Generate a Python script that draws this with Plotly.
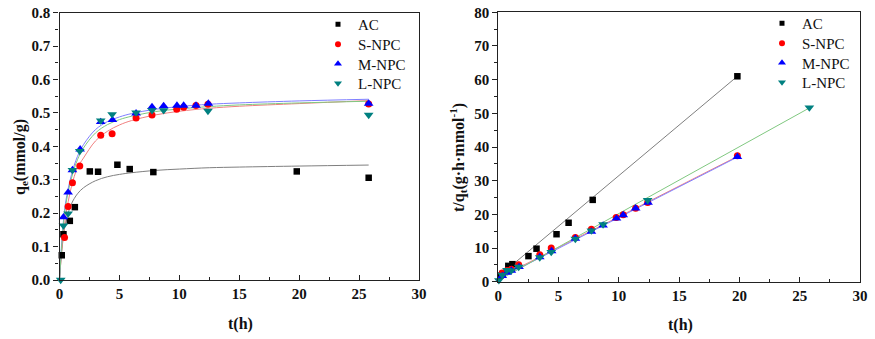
import plotly.graph_objects as go

# ---------------- Left panel: q_t vs t ----------------
ac_t = [0.19, 0.33, 0.86, 1.28, 2.53, 3.22, 4.83, 5.86, 7.83, 19.8, 25.8]
ac_q = [0.074, 0.137, 0.177, 0.218, 0.325, 0.324, 0.345, 0.332, 0.323, 0.325, 0.306]

snpc_t = [0.42, 0.72, 1.08, 1.69, 3.44, 4.39, 6.39, 7.72, 9.78, 10.36, 11.39, 12.39, 25.8]
snpc_q = [0.127, 0.220, 0.291, 0.341, 0.433, 0.438, 0.485, 0.494, 0.511, 0.517, 0.522, 0.526, 0.527]

mnpc_t = [0.33, 0.72, 1.08, 1.72, 3.44, 4.42, 6.39, 7.72, 8.69, 9.80, 10.36, 11.39, 12.42, 25.8]
mnpc_q = [0.188, 0.262, 0.329, 0.391, 0.473, 0.479, 0.499, 0.518, 0.521, 0.522, 0.522, 0.522, 0.528, 0.528]

lnpc_t = [0.10, 0.33, 0.72, 1.08, 1.69, 3.44, 4.39, 6.39, 7.72, 8.69, 12.39, 25.8]
lnpc_q = [0.0, 0.163, 0.199, 0.329, 0.386, 0.477, 0.496, 0.501, 0.508, 0.508, 0.506, 0.494]

# fitted curves
fit_t = [0, 0.2, 0.5, 1, 1.5, 2, 3, 4, 5, 6, 8, 10, 12.5, 15, 20, 25.8]
ac_fit = [0, 0.09, 0.170, 0.228, 0.258, 0.276, 0.297, 0.309, 0.316, 0.321, 0.328, 0.332, 0.336, 0.338, 0.341, 0.344]
snpc_fit = [0, 0.094, 0.187, 0.280, 0.336, 0.365, 0.416, 0.445, 0.464, 0.477, 0.494, 0.505, 0.514, 0.520, 0.528, 0.537]
mnpc_fit = [0, 0.12, 0.23, 0.315, 0.370, 0.405, 0.450, 0.474, 0.488, 0.498, 0.511, 0.519, 0.526, 0.530, 0.536, 0.541]
lnpc_fit = [0, 0.11, 0.22, 0.305, 0.360, 0.395, 0.440, 0.465, 0.480, 0.490, 0.504, 0.512, 0.519, 0.524, 0.530, 0.535]

# ---------------- Right panel: t/q_t vs t ----------------
ac2_t = [0.17, 0.33, 0.83, 1.17, 2.5, 3.17, 4.83, 5.83, 7.83, 19.83]
ac2_y = [1.8, 2.3, 4.7, 5.2, 7.6, 9.8, 14.1, 17.5, 24.3, 61.0]

snpc2_t = [0.33, 0.72, 1.08, 1.69, 3.44, 4.39, 6.39, 7.72, 9.78, 10.36, 11.39, 12.39, 19.83]
snpc2_y = [2.6, 3.3, 3.7, 5.0, 8.0, 10.0, 13.1, 15.6, 19.1, 19.9, 21.8, 23.5, 37.4]

mnpc2_t = [0.33, 0.72, 1.08, 1.72, 3.44, 4.42, 6.39, 7.72, 8.69, 9.80, 10.36, 11.39, 12.42, 19.83]
mnpc2_y = [1.7, 2.7, 3.3, 4.4, 7.3, 9.1, 12.8, 14.9, 16.7, 18.8, 19.8, 21.8, 23.5, 37.1]

lnpc2_t = [0.05, 0.33, 0.72, 1.08, 1.69, 3.44, 4.39, 6.39, 7.72, 8.69, 12.39, 25.8]
lnpc2_y = [0.4, 2.0, 3.4, 3.3, 4.4, 7.2, 8.8, 12.7, 15.2, 17.0, 24.2, 51.7]

# linear fits (end points)
ac2_fit_t, ac2_fit_y = [0, 19.83], [1.5, 61.0]
snpc2_fit_t, snpc2_fit_y = [0, 19.83], [1.1, 37.2]
mnpc2_fit_t, mnpc2_fit_y = [0, 19.83], [0.8, 37.0]
lnpc2_fit_t, lnpc2_fit_y = [0, 25.8], [0.4, 51.6]

names = ["AC", "S-NPC", "M-NPC", "L-NPC"]
mcolors = ["#000000", "#ff0000", "#0000ff", "#008080"]
lcolors = ["#7f7f7f", "#f08080", "#7f7fff", "#80c880"]
symbols = ["square", "circle", "triangle-up", "triangle-down"]
msizes = [6.5, 7, 8.5, 8.5]
lsizes = [5, 6, 7, 7]

SERIF = "Liberation Serif, Times New Roman, serif"

fig = go.Figure()

left_pts = [(ac_t, ac_q), (snpc_t, snpc_q), (mnpc_t, mnpc_q), (lnpc_t, lnpc_q)]
left_fits = [ac_fit, snpc_fit, mnpc_fit, lnpc_fit]
right_pts = [(ac2_t, ac2_y), (snpc2_t, snpc2_y), (mnpc2_t, mnpc2_y), (lnpc2_t, lnpc2_y)]
right_fits = [(ac2_fit_t, ac2_fit_y), (snpc2_fit_t, snpc2_fit_y),
              (mnpc2_fit_t, mnpc2_fit_y), (lnpc2_fit_t, lnpc2_fit_y)]

# fit lines
for i in range(4):
    fig.add_trace(go.Scatter(x=fit_t, y=left_fits[i], mode="lines", line_shape="spline",
                             line=dict(color=lcolors[i], width=1), showlegend=False,
                             xaxis="x", yaxis="y", hoverinfo="skip"))
    fig.add_trace(go.Scatter(x=right_fits[i][0], y=right_fits[i][1], mode="lines",
                             line=dict(color=lcolors[i], width=1), showlegend=False,
                             xaxis="x2", yaxis="y2", hoverinfo="skip"))

# markers
for i in range(4):
    fig.add_trace(go.Scatter(x=left_pts[i][0], y=left_pts[i][1], mode="markers",
                             marker=dict(symbol=symbols[i], color=mcolors[i], size=msizes[i]),
                             showlegend=False, cliponaxis=False, xaxis="x", yaxis="y"))
for i in range(4):
    fig.add_trace(go.Scatter(x=right_pts[i][0], y=right_pts[i][1], mode="markers",
                             marker=dict(symbol=symbols[i], color=mcolors[i], size=msizes[i]),
                             showlegend=False, cliponaxis=False, xaxis="x2", yaxis="y2"))

# legend entries: one small legend per entry so each row sits where the reference puts it
legfont = dict(family=SERIF, size=15, color="#111")
legend_layout = {}
left_rows = [25, 45, 64.5, 84]
right_rows = [24, 44, 63.5, 83]
ROW_TOP = 17  # distance from a legend's top edge to its row centre
for i in range(4):
    lid_l = "legend" if i == 0 else "legend%d" % (i + 1)
    lid_r = "legend%d" % (i + 5)
    fig.add_trace(go.Scatter(x=[None], y=[None], mode="markers", name=names[i],
                             marker=dict(symbol=symbols[i], color=mcolors[i], size=lsizes[i]),
                             legend=lid_l, xaxis="x", yaxis="y"))
    fig.add_trace(go.Scatter(x=[None], y=[None], mode="markers", name=names[i],
                             marker=dict(symbol=symbols[i], color=mcolors[i], size=lsizes[i]),
                             legend=lid_r, xaxis="x2", yaxis="y2"))
    legend_layout[lid_l] = dict(x=318 / 875, y=1 - (left_rows[i] - ROW_TOP) / 339, xanchor="left",
                                yanchor="top", font=legfont, bgcolor="rgba(0,0,0,0)",
                                borderwidth=0, itemwidth=30)
    legend_layout[lid_r] = dict(x=762 / 875, y=1 - (right_rows[i] - ROW_TOP) / 339, xanchor="left",
                                yanchor="top", font=legfont, bgcolor="rgba(0,0,0,0)",
                                borderwidth=0, itemwidth=30)

tickfont = dict(family=SERIF, size=15, color="#111", weight="bold")


def xaxis_cfg(domain, anchor):
    return dict(domain=domain, anchor=anchor, range=[0, 30], dtick=5, tick0=0,
                showline=True, linecolor="#222", linewidth=1.3, mirror=True,
                ticks="inside", ticklen=5, tickwidth=1.2, tickcolor="#222",
                minor=dict(ticks="inside", ticklen=3, dtick=2.5, tickcolor="#222", tickwidth=1),
                showgrid=False, zeroline=False, tickfont=tickfont, automargin=False)


def yaxis_cfg(domain, anchor, rng, dtick, minor_dtick, fmt):
    return dict(domain=domain, anchor=anchor, range=rng, dtick=dtick, tick0=0,
                showline=True, linecolor="#222", linewidth=1.3, mirror=True,
                ticks="outside", ticklen=5, tickwidth=1.2, tickcolor="#222",
                minor=dict(ticks="outside", ticklen=3, dtick=minor_dtick, tickcolor="#222", tickwidth=1),
                showgrid=False, zeroline=False, tickfont=tickfont, tickformat=fmt,
                automargin=False)


titlefont = dict(family=SERIF, size=16, color="#111", weight="bold")

fig.update_layout(
    width=875, height=339,
    margin=dict(l=0, r=0, t=0, b=0, autoexpand=False),
    paper_bgcolor="white", plot_bgcolor="white",
    xaxis=xaxis_cfg([59.5 / 875, 419 / 875], "y"),
    yaxis=yaxis_cfg([1 - 280 / 339, 1 - 12.7 / 339], "x", [0, 0.8], 0.1, 0.05, ".1f"),
    xaxis2=xaxis_cfg([498.3 / 875, 860 / 875], "y2"),
    yaxis2=yaxis_cfg([1 - 281.7 / 339, 1 - 12.3 / 339], "x2", [0, 80], 10, 5, "d"),
    annotations=[
        dict(text="t(h)", x=240 / 875, y=1 - 324 / 339, xref="paper", yref="paper",
             xanchor="center", yanchor="middle", showarrow=False, font=titlefont),
        dict(text="t(h)", x=680 / 875, y=1 - 325 / 339, xref="paper", yref="paper",
             xanchor="center", yanchor="middle", showarrow=False, font=titlefont),
        dict(text="q<sub>e</sub>(mmol/g)", x=20 / 875, y=1 - 157 / 339, xref="paper", yref="paper",
             xanchor="center", yanchor="middle", showarrow=False, textangle=-90, font=titlefont),
        dict(text="t/q<sub>t</sub>(g·h·mmol<sup>-1</sup>)", x=458 / 875, y=1 - 158 / 339,
             xref="paper", yref="paper", xanchor="center", yanchor="middle",
             showarrow=False, textangle=-90, font=titlefont),
    ],
    **legend_layout,
)

fig.write_html("out.html",
               config={"displayModeBar": False},
               post_script="document.body.style.margin='0';document.body.style.overflow='hidden';")
